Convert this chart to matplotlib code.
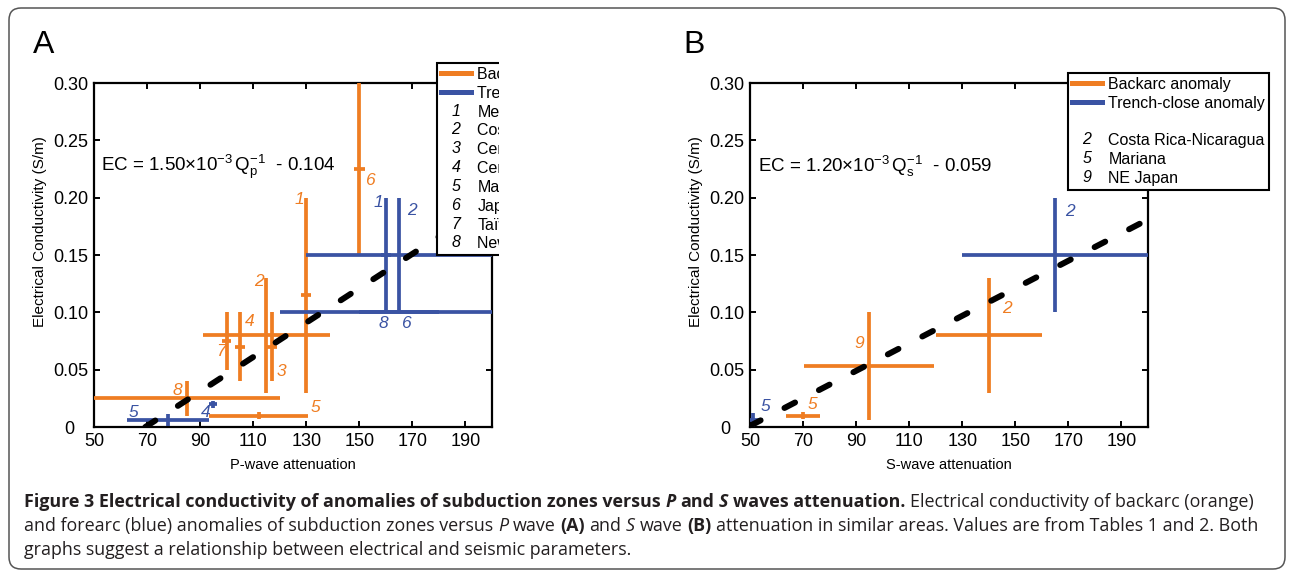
import numpy as np
import matplotlib
matplotlib.use('Agg')
import matplotlib.pyplot as plt
from matplotlib.lines import Line2D
from matplotlib.text import Text, Annotation
from matplotlib.legend_handler import HandlerBase
from matplotlib.patches import FancyBboxPatch, Rectangle
from matplotlib.transforms import ScaledTranslation

plt.rcParams['font.family'] = ['Liberation Sans', 'DejaVu Sans']
plt.rcParams['mathtext.fontset'] = 'custom'
plt.rcParams['mathtext.rm'] = 'Liberation Sans'
plt.rcParams['mathtext.it'] = 'Liberation Sans:italic'
plt.rcParams['mathtext.bf'] = 'Liberation Sans:bold'

ORANGE = '#EF7D22'
BLUE = '#3A53A3'

# ---- panel A (P-wave) ----
a_or_lab = ['1', '2', '3', '4', '5', '6', '7', '8']
a_or_x = [130, 115, 117, 105, 112, 150, 100, 85]
a_or_y = [0.115, 0.08, 0.07, 0.07, 0.01, 0.225, 0.075, 0.025]
a_or_xerr = [1.8, 24, 1.8, 1.8, 18.5, 2, 1.8, 35]
a_or_yerr = [0.085, 0.05, 0.03, 0.03, 0.003, 0.075, 0.025, 0.015]
a_or_labx = [127.5, 112, 120.6, 108.5, 133.5, 153.8, 97.8, 81.5]
a_or_laby = [0.198, 0.127, 0.048, 0.092, 0.017, 0.215, 0.066, 0.032]

a_bl_lab = ['1', '2', '4', '5', '6', '8']
a_bl_x = [160, 165, 95, 78, 165, 160]
a_bl_y = [0.15, 0.15, 0.02, 0.006, 0.10, 0.10]
a_bl_xerr = [1.8, 35, 1.5, 15.5, 15, 40]
a_bl_yerr = [0.05, 0.05, 0.003, 0.005, 0, 0]
a_bl_labx = [157, 170, 92, 65, 167.5, 159]
a_bl_laby = [0.196, 0.189, 0.013, 0.013, 0.09, 0.09]

a_slope, a_icpt = 1.50e-3, -0.104
a_names = ['Mexico', 'Costa Rica-Nicaragua', 'Central Andes-Bolivia',
           'Central Andes-Argentina', 'Mariana', 'Japan-Honshu', 'Ta\u00efwan',
           'New Zealand']
a_nums = ['1', '2', '3', '4', '5', '6', '7', '8']

# ---- panel B (S-wave) ----
b_or_lab = ['2', '5', '9']
b_or_x = [140, 70, 95]
b_or_y = [0.08, 0.01, 0.053]
b_or_xerr = [20, 6.5, 24.5]
b_or_yerr = [0.05, 0.003, 0.047]
b_or_labx = [147, 73.7, 91.3]
b_or_laby = [0.103, 0.02, 0.073]

b_bl_lab = ['2', '5']
b_bl_x = [165, 51]
b_bl_y = [0.15, 0.006]
b_bl_xerr = [35, 4]
b_bl_yerr = [0.05, 0.006]
b_bl_labx = [170.6, 56]
b_bl_laby = [0.188, 0.018]

b_slope, b_icpt = 1.20e-3, -0.059
b_names = ['Costa Rica-Nicaragua', 'Mariana', 'NE Japan']
b_nums = ['2', '5', '9']

xticks = [50, 70, 90, 110, 130, 150, 170, 190]
yticks = [0, 0.05, 0.10, 0.15, 0.20, 0.25, 0.30]
ytlabels = ['0', '0.05', '0.10', '0.15', '0.20', '0.25', '0.30']


class NumTag:
    def __init__(self, s):
        self.s = s


class NumHandler(HandlerBase):
    def create_artists(self, legend, orig_handle, xdescent, ydescent, width,
                       height, fontsize, trans):
        t = Text(width / 2 - xdescent, height / 2 - ydescent, orig_handle.s,
                 fontsize=fontsize, style='italic', ha='center', va='center',
                 transform=trans)
        return [t]


W, H = 1290, 572
fig = plt.figure(figsize=(W / 100, H / 100), dpi=100)


def fax(l, t, r, b):
    return fig.add_axes([l / W, 1 - b / H, (r - l) / W, (b - t) / H])


def setup(ax, xlabel):
    ax.set_xlim(50, 200)
    ax.set_ylim(0, 0.30)
    ax.set_xticks(xticks)
    ax.set_yticks(yticks)
    ax.set_yticklabels(ytlabels)
    ax.tick_params(direction='in', top=True, right=True, length=4, width=1.4,
                   labelsize=13, pad=4)
    for s in ax.spines.values():
        s.set_linewidth(1.6)
    ax.set_xlabel(xlabel, fontsize=10.5, labelpad=6)
    ax.set_ylabel('Electrical Conductivity (S/m)', fontsize=11)
    ax.yaxis.set_label_coords(-0.118, 0.567)
    # the "0" label sits further left, clear of the "50"
    lab0 = ax.yaxis.get_major_ticks()[0].label1
    lab0.set_transform(lab0.get_transform() +
                       ScaledTranslation(-0.14, 0, fig.dpi_scale_trans))


def bars(ax, x, y, xe, ye, c, labs, lx, ly):
    ax.errorbar(x, y, xerr=xe, yerr=ye, fmt='none', ecolor=c, elinewidth=2.7,
                capsize=0, zorder=3)
    for s, tx, ty in zip(labs, lx, ly):
        ax.text(tx, ty, s, color=c, fontsize=12.5, style='italic',
                ha='center', va='center', zorder=4)


def fitline(ax, slope, icpt):
    x0 = max(50, -icpt / slope)
    xs = np.array([x0, 200])
    ax.plot(xs, slope * xs + icpt, color='black', lw=4.3,
            ls=(0, (2.0, 4.5)), dash_capstyle='round', zorder=5)


def legend(ax, nums, names, x, y, blank=False):
    hs = [Line2D([], [], color=ORANGE, lw=3.6), Line2D([], [], color=BLUE, lw=3.6)]
    ls = ['Backarc anomaly', 'Trench-close anomaly']
    if blank:
        hs.append(NumTag(''))
        ls.append(' ')
    hs += [NumTag(n) for n in nums]
    ls += names
    lg = ax.legend(hs, ls, handler_map={NumTag: NumHandler()}, loc='upper left',
                   bbox_to_anchor=(x / W, 1 - y / H), bbox_transform=fig.transFigure,
                   borderaxespad=0, fancybox=False, edgecolor='black',
                   framealpha=1, fontsize=11.5, handlelength=1.88,
                   handletextpad=0.4, labelspacing=0.24, borderpad=0.25)
    lg.get_frame().set_linewidth(1.5)
    lg.set_zorder(10)
    return lg


axA = fax(94, 83, 492, 427)
setup(axA, 'P-wave attenuation')
bars(axA, a_or_x, a_or_y, a_or_xerr, a_or_yerr, ORANGE, a_or_lab, a_or_labx, a_or_laby)
bars(axA, a_bl_x, a_bl_y, a_bl_xerr, a_bl_yerr, BLUE, a_bl_lab, a_bl_labx, a_bl_laby)
fitline(axA, a_slope, a_icpt)
axA.text(52.5, 0.227, r'EC = 1.50$\times$10$^{-3}\,$Q$_{\mathrm{p}}^{-1}$  - 0.104',
         fontsize=13.5, va='center', ha='left')
legend(axA, a_nums, a_names, 437, 63)

axB = fax(750, 83, 1148, 427)
setup(axB, 'S-wave attenuation')
bars(axB, b_or_x, b_or_y, b_or_xerr, b_or_yerr, ORANGE, b_or_lab, b_or_labx, b_or_laby)
bars(axB, b_bl_x, b_bl_y, b_bl_xerr, b_bl_yerr, BLUE, b_bl_lab, b_bl_labx, b_bl_laby)
fitline(axB, b_slope, b_icpt)
axB.text(53, 0.2276, r'EC = 1.20$\times$10$^{-3}\,$Q$_{\mathrm{s}}^{-1}$  - 0.059',
         fontsize=13.5, va='center', ha='left')
legend(axB, b_nums, b_names, 1068, 73, blank=True)

# the A legend is cut off at the panel edge
fig.add_artist(Rectangle((499, H - 275), 170, 225, transform=None,
                         facecolor='white', edgecolor='none', zorder=20))

fig.text(33 / W, 1 - 53 / H, 'A', fontsize=23, va='baseline')
fig.text(683 / W, 1 - 53 / H, 'B', fontsize=23, va='baseline')

fig.add_artist(FancyBboxPatch((9, 3), 1276, H - 11, transform=None,
                              boxstyle='round,pad=0,rounding_size=12',
                              facecolor='none', edgecolor='#555555', lw=1.1))

# caption
cfont = ['Open Sans', 'DejaVu Sans']
csize = 12.9
cgap = 3.4
capcol = '#231f20'
cap_lines = [
    [('Figure 3 Electrical conductivity of anomalies of subduction zones versus', 'bold', 'normal'),
     ('P', 'bold', 'italic'), ('and', 'bold', 'normal'), ('S', 'bold', 'italic'),
     ('waves attenuation.', 'bold', 'normal'),
     ('Electrical conductivity of backarc (orange)', 'normal', 'normal')],
    [('and forearc (blue) anomalies of subduction zones versus', 'normal', 'normal'),
     ('P', 'normal', 'italic'), ('wave', 'normal', 'normal'), ('(A)', 'bold', 'normal'),
     ('and', 'normal', 'normal'), ('S', 'normal', 'italic'), ('wave', 'normal', 'normal'),
     ('(B)', 'bold', 'normal'),
     ('attenuation in similar areas. Values are from Tables 1 and 2. Both', 'normal', 'normal')],
    [('graphs suggest a relationship between electrical and seismic parameters.', 'normal', 'normal')],
]
cap_base = [507, 531, 555]
for segs, yb in zip(cap_lines, cap_base):
    prev = None
    for s, wt, st in segs:
        if prev is None:
            prev = fig.text(24 / W, 1 - yb / H, s, fontsize=csize, fontweight=wt,
                            style=st, family=cfont, color=capcol, va='baseline')
        else:
            a = Annotation(s, xy=(1, 0), xycoords=prev, xytext=(cgap, 0),
                           textcoords='offset points', fontsize=csize, fontweight=wt,
                           style=st, family=cfont, color=capcol, va='bottom', ha='left')
            fig.add_artist(a)
            prev = a

fig.savefig('out.png', dpi=100)
